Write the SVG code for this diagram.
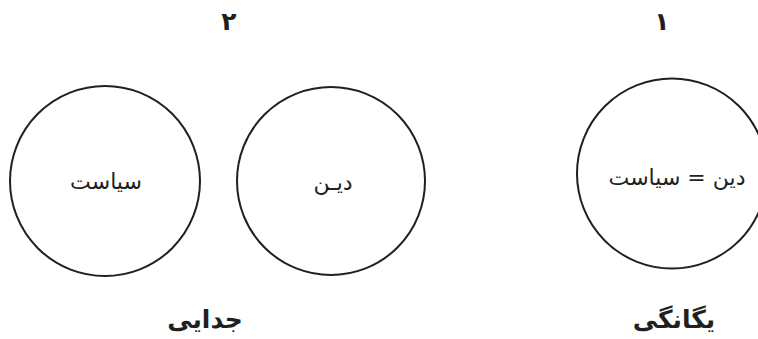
<svg xmlns="http://www.w3.org/2000/svg" width="758" height="339" viewBox="0 0 758 339">
<style>
.c{fill:none;stroke:#231f20;stroke-width:2}
.t{font-family:"DejaVu Sans",sans-serif;font-size:22px;fill:#231f20;text-anchor:middle}
.b{font-family:"DejaVu Sans",sans-serif;font-size:25px;font-weight:bold;fill:#231f20;text-anchor:middle}
</style>
<rect width="758" height="339" fill="#fff"/>
<g id="num2"><text class="b" x="229" y="30">۲</text></g>
<g id="num1"><text class="b" x="662" y="30">۱</text></g>
<g id="siasat"><circle class="c" cx="105" cy="181" r="95"/><text class="t" x="106" y="189" direction="rtl">سیاست</text></g>
<g id="din"><circle class="c" cx="331" cy="181" r="94"/><text class="t" x="333" y="190" direction="rtl">دیـن</text></g>
<g id="yeganegi-circle"><circle class="c" cx="672" cy="173.5" r="95"/><text class="t" x="677" y="185" direction="rtl">دین = سیاست</text></g>
<g id="jodaei"><text class="b" x="205" y="328" direction="rtl">جدایی</text></g>
<g id="yeganegi"><text class="b" x="674" y="328" direction="rtl">یگانگی</text></g>
<g id="connectors"></g>
</svg>
